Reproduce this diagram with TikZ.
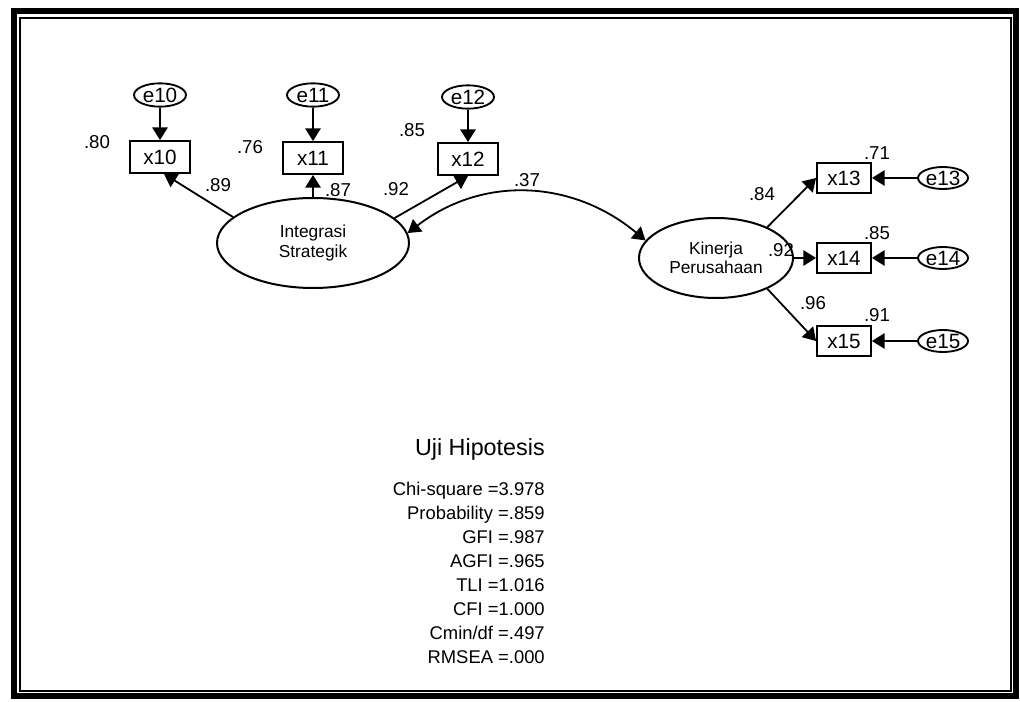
\documentclass[tikz,border=0pt]{standalone}
\usepackage{fontspec}
\setmainfont{Liberation Sans}
\usetikzlibrary{arrows.meta,shapes.geometric}
\begin{document}
\begin{tikzpicture}[x=0.75pt,y=-0.75pt,
  errnode/.style={draw,ellipse,line width=1.4pt,minimum width=39pt,minimum height=17.5pt,inner sep=0pt,font=\fontsize{15.5}{16}\selectfont},
  errnoder/.style={errnode,minimum width=37.5pt,minimum height=16.5pt},
  obsbox/.style={draw,rectangle,line width=1.4pt,minimum width=45pt,minimum height=24pt,inner sep=0pt,font=\fontsize{15.5}{16}\selectfont},
  obsboxr/.style={obsbox,minimum width=40.5pt,minimum height=23pt},
  latnode/.style={draw,ellipse,line width=1.5pt,inner sep=0pt,align=center,font=\fontsize{13}{14.5}\selectfont},
  coef/.style={inner sep=0pt,font=\fontsize{14}{16}\selectfont},
  sempath/.style={line width=1.35pt,-{Triangle[length=9.5pt,width=11.5pt]}},
  covpath/.style={line width=1.35pt,{Triangle[length=9.5pt,width=11.5pt]}-{Triangle[length=9.5pt,width=11.5pt]}},
  statline/.style={anchor=base east,inner sep=0pt,font=\fontsize{13.8}{16}\selectfont}
]
\useasboundingbox (0,0) rectangle (1020,702);
% frame
\draw[line width=4.2pt] (14,11) rectangle (1016,696);
\draw[line width=1.2pt] (20,18) rectangle (1011,691);

% left latent and indicators
\node[latnode,minimum width=144pt,minimum height=67.5pt] (IS) at (313,243) {Integrasi\\Strategik};
\node[obsbox] (x10) at (160,157) {x10};
\node[obsbox] (x11) at (313,158) {x11};
\node[obsbox] (x12) at (468,159) {x12};
\node[errnode] (e10) at (160,95) {e10};
\node[errnode] (e11) at (313,95) {e11};
\node[errnode] (e12) at (468,97) {e12};

% right latent and indicators
\node[latnode,minimum width=115.5pt,minimum height=60pt] (KP) at (716,258) {Kinerja\\Perusahaan};
\node[obsboxr] (x13) at (844,178) {x13};
\node[obsboxr] (x14) at (844,258) {x14};
\node[obsboxr] (x15) at (844,341) {x15};
\node[errnoder] (e13) at (943,178) {e13};
\node[errnoder] (e14) at (943,258) {e14};
\node[errnoder] (e15) at (943,341) {e15};

% paths
\draw[sempath] (e10) -- (x10);
\draw[sempath] (e11) -- (x11);
\draw[sempath] (e12) -- (x12);
\draw[sempath] (IS.162) -- ([xshift=3pt]x10.south);
\draw[sempath] (IS.north) -- (x11.south);
\draw[sempath] (IS.17) -- (x12.south);
\draw[sempath] (KP.31) -- (x13.west);
\draw[sempath] (KP.east) -- (x14.west);
\draw[sempath] (KP.-31) -- (x15.west);
\draw[sempath] (e13) -- (x13);
\draw[sempath] (e14) -- (x14);
\draw[sempath] (e15) -- (x15);
\draw[covpath] (IS.6) .. controls (483,175) and (573,180) .. (KP.166);

% coefficients
\node[coef] (c80) at (97,142) {.80};
\node[coef] (c76) at (250,147) {.76};
\node[coef] (c85a) at (412,130) {.85};
\node[coef] (c89) at (218,185) {.89};
\node[coef] (c87) at (338,190) {.87};
\node[coef] (c92a) at (396,189) {.92};
\node[coef] (c37) at (527,180) {.37};
\node[coef] (c71) at (877,153) {.71};
\node[coef] (c85b) at (877,233) {.85};
\node[coef] (c91) at (877,315) {.91};
\node[coef] (c84) at (762,194) {.84};
\node[coef] (c92b) at (781,250) {.92};
\node[coef] (c96) at (813,303) {.96};

% fit statistics
\node[anchor=base east,inner sep=0pt,font=\fontsize{17.5}{20}\selectfont] (uji) at (545,455) {Uji Hipotesis};
\node[statline] (s1) at (545,495) {Chi-square =3.978};
\node[statline] (s2) at (545,519) {Probability =.859};
\node[statline] (s3) at (545,543) {GFI =.987};
\node[statline] (s4) at (545,567) {AGFI =.965};
\node[statline] (s5) at (545,591) {TLI =1.016};
\node[statline] (s6) at (545,615) {CFI =1.000};
\node[statline] (s7) at (545,639) {Cmin/df =.497};
\node[statline] (s8) at (545,663) {RMSEA =.000};
\end{tikzpicture}
\end{document}
